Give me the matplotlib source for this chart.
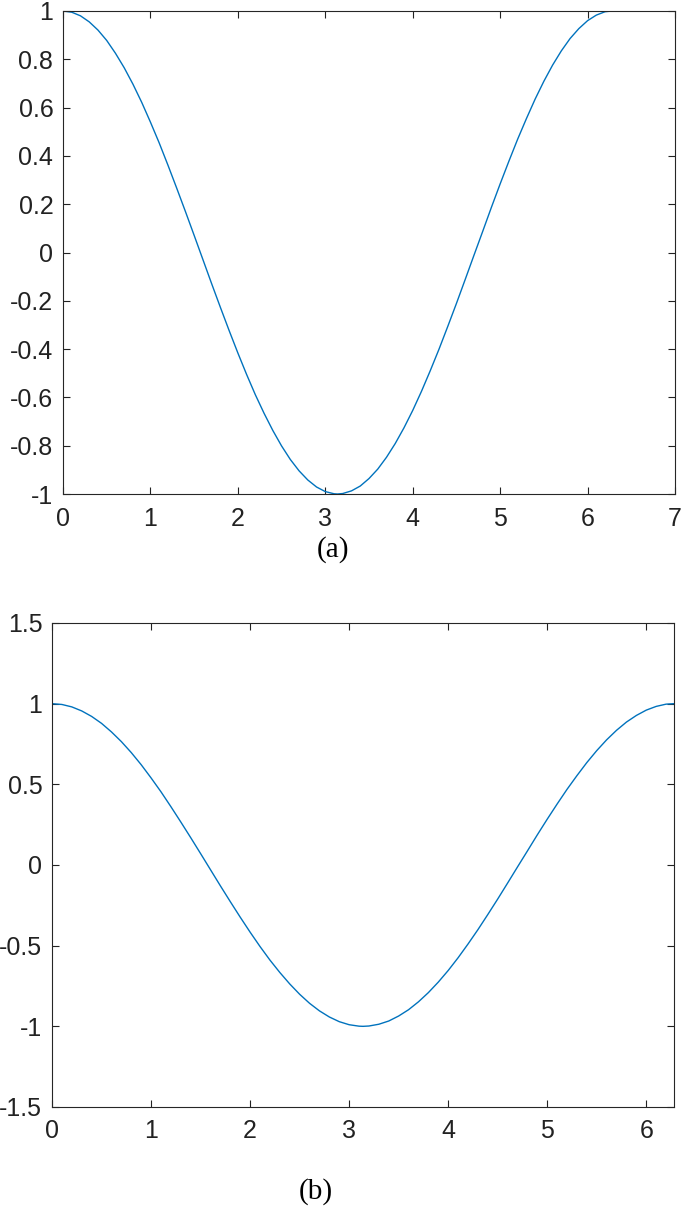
import matplotlib.pyplot as plt

# points (same curve in both panels)
x_vals = [0.0, 0.1, 0.2, 0.3, 0.4, 0.5, 0.6, 0.7, 0.8, 0.9, 1.0, 1.1, 1.2, 1.3, 1.4,
          1.5, 1.6, 1.7, 1.8, 1.9, 2.0, 2.1, 2.2, 2.3, 2.4, 2.5, 2.6, 2.7, 2.8, 2.9,
          3.0, 3.1, 3.14, 3.2, 3.3, 3.4, 3.5, 3.6, 3.7, 3.8, 3.9, 4.0, 4.1, 4.2, 4.3,
          4.4, 4.5, 4.6, 4.7, 4.8, 4.9, 5.0, 5.1, 5.2, 5.3, 5.4, 5.5, 5.6, 5.7, 5.8,
          5.9, 6.0, 6.1, 6.2, 6.28]
y_vals = [1.000, 0.995, 0.980, 0.955, 0.921, 0.878, 0.825, 0.765, 0.697, 0.622,
          0.540, 0.454, 0.362, 0.267, 0.170, 0.071, -0.029, -0.129, -0.227, -0.323,
          -0.416, -0.505, -0.589, -0.666, -0.737, -0.801, -0.857, -0.904, -0.942,
          -0.971, -0.990, -0.999, -1.000, -0.998, -0.987, -0.967, -0.936, -0.897,
          -0.848, -0.791, -0.726, -0.654, -0.575, -0.490, -0.401, -0.307, -0.211,
          -0.112, -0.012, 0.087, 0.187, 0.284, 0.378, 0.469, 0.554, 0.635, 0.709,
          0.776, 0.835, 0.886, 0.927, 0.960, 0.983, 0.997, 1.000]

ticks_a_x = [0, 1, 2, 3, 4, 5, 6, 7]
ticks_a_y = [-1, -0.8, -0.6, -0.4, -0.2, 0, 0.2, 0.4, 0.6, 0.8, 1]
ticks_b_x = [0, 1, 2, 3, 4, 5, 6]
ticks_b_y = [-1.5, -1, -0.5, 0, 0.5, 1, 1.5]

plt.rcParams['font.family'] = ['Liberation Sans', 'DejaVu Sans']

fig = plt.figure(figsize=(6.85, 12.16), dpi=100)
H = 1216.0
W = 685.0


def make_axes(l, r, t, b):
    return fig.add_axes([l / W, 1 - b / H, (r - l) / W, (b - t) / H])


def style(ax, xt, yt):
    ax.set_xticks(xt)
    ax.set_yticks(yt)
    ax.set_xticklabels([f'{v:g}' for v in xt])
    ax.set_yticklabels([f'{v:g}' for v in yt])
    ax.tick_params(direction='in', top=True, right=True, length=5, width=0.8,
                   labelsize=18, colors='#222222')
    ax.tick_params(axis='x', pad=9)
    ax.tick_params(axis='y', pad=7)
    for s in ax.spines.values():
        s.set_color('#262626')
        s.set_linewidth(0.8)


ax1 = make_axes(63, 675, 11, 494)
ax1.plot(x_vals, y_vals, color='#0072BD', linewidth=1.0)
ax1.set_xlim(0, 7)
ax1.set_ylim(-1, 1)
style(ax1, ticks_a_x, ticks_a_y)

ax2 = make_axes(52, 674, 623, 1107)
ax2.plot(x_vals, y_vals, color='#0072BD', linewidth=1.0)
ax2.set_xlim(0, 6.28)
ax2.set_ylim(-1.5, 1.5)
style(ax2, ticks_b_x, ticks_b_y)

fig.text(333 / W, 1 - 550 / H, '(a)', family='Liberation Serif', fontsize=21,
         ha='center', va='center')
fig.text(316 / W, 1 - 1192 / H, '(b)', family='Liberation Serif', fontsize=21,
         ha='center', va='center')

fig.savefig('out.png', dpi=100)
